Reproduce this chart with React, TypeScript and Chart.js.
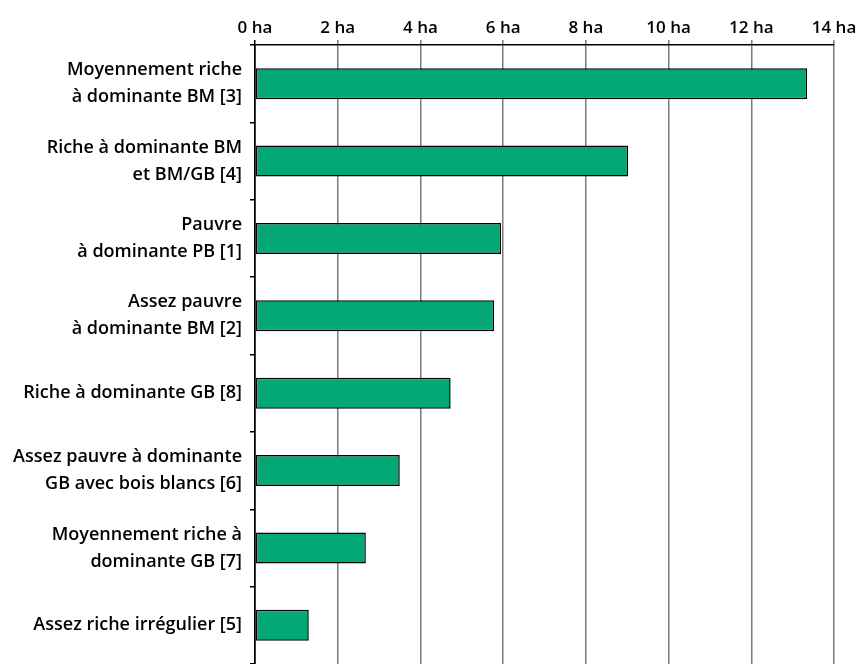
import React, { useEffect, useRef } from "react";
import { Chart, registerables } from "chart.js";

Chart.register(...registerables);

const categories: string[][] = [
  ["Moyennement riche", "à dominante BM [3]"],
  ["Riche à dominante BM", "et BM/GB [4]"],
  ["Pauvre", "à dominante PB [1]"],
  ["Assez pauvre", "à dominante BM [2]"],
  ["Riche à dominante GB [8]"],
  ["Assez pauvre à dominante", "GB avec bois blancs [6]"],
  ["Moyennement riche à", "dominante GB [7]"],
  ["Assez riche irrégulier [5]"],
];

const surfaces: number[] = [13.35, 9.02, 5.95, 5.78, 4.73, 3.5, 2.68, 1.3];

const xTickValues: number[] = [0, 2, 4, 6, 8, 10, 12, 14];
const unit = "ha";

export default function App() {
  const ref = useRef<HTMLCanvasElement | null>(null);

  useEffect(() => {
    if (!ref.current) return;
    const font = { family: "'Open Sans', sans-serif", size: 18, weight: 600 as any, lineHeight: 1.5 };
    const chart = new Chart(ref.current, {
      type: "bar",
      data: {
        labels: categories,
        datasets: [
          {
            data: surfaces,
            backgroundColor: "#03a876",
            borderColor: "#000000",
            borderWidth: 1.5,
            borderSkipped: false,
            barPercentage: 0.4,
            categoryPercentage: 1,
          },
        ],
      },
      options: {
        indexAxis: "y",
        animation: false,
        responsive: true,
        maintainAspectRatio: false,
        layout: { padding: { top: 0, right: 28, bottom: 0, left: 0 } },
        plugins: { legend: { display: false }, tooltip: { enabled: false } },
        scales: {
          x: {
            position: "top",
            min: 0,
            max: 14,
            afterBuildTicks: (scale: any) => {
              scale.ticks = xTickValues.map((v) => ({ value: v }));
            },
            afterFit: (scale: any) => {
              scale.height = 45;
              scale.paddingLeft = 0;
              scale.paddingRight = 0;
            },
            ticks: {
              color: "#000",
              font: { family: "'Open Sans', sans-serif", size: 17, weight: 600 as any },
              padding: 2,
              maxRotation: 0,
              callback: (v: any) => `${v} ${unit}`,
            },
            grid: {
              color: (ctx: any) => (ctx.index === 0 ? "#000000" : "#7a7a7a"),
              lineWidth: 1.5,
              tickLength: 5,
            },
            border: { display: true, color: "#000", width: 1.5 },
          },
          y: {
            afterFit: (scale: any) => {
              scale.width = 255;
              scale.paddingTop = 0;
              scale.paddingBottom = 0;
            },
            ticks: {
              color: "#000",
              font,
              padding: 8,
            },
            grid: {
              drawOnChartArea: false,
              drawTicks: true,
              tickLength: 5,
              color: "#000",
              lineWidth: 1.5,
              offset: true,
            },
            border: { display: true, color: "#000", width: 1.5 },
          },
        },
      },
    });
    return () => chart.destroy();
  }, []);

  return (
    <div style={{ position: "fixed", left: 0, top: 0, width: 862, height: 664, background: "#fff" }}>
      <canvas ref={ref} />
    </div>
  );
}
